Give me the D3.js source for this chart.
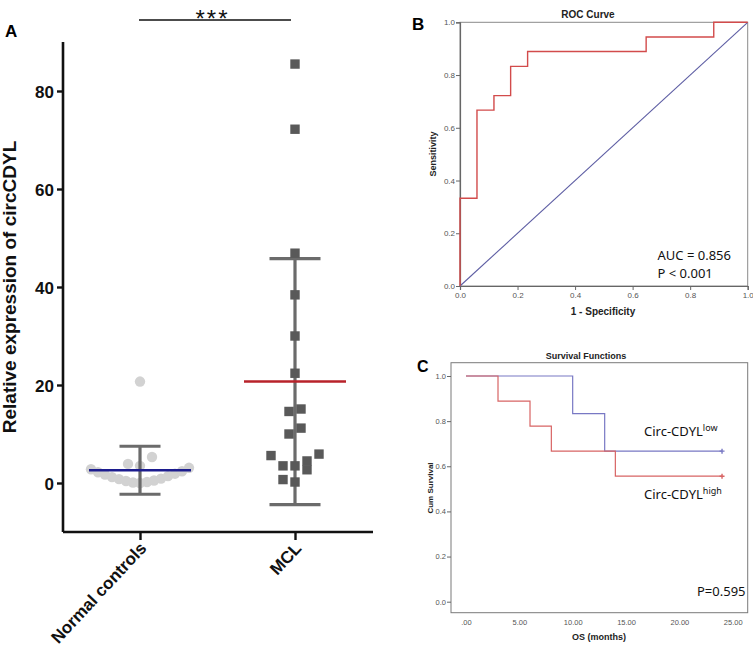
<!DOCTYPE html>
<html>
<head>
<meta charset="utf-8">
<script src="https://cdn.jsdelivr.net/npm/d3@7"></script>
<style>
  html, body { margin: 0; padding: 0; background: #fff; }
  svg { display: block; }
</style>
</head>
<body>
<svg id="chart" width="753" height="647"></svg>
<script>
// ---------------- DATA ----------------
const groups = ["Normal controls", "MCL"];
const normalValues = [20.7, 5.3, 3.9, 3.5, 3.1, 2.8, 2.4, 2.2, 1.9, 1.7, 1.4, 1.2, 0.9, 0.8, 0.5, 0.4, 0.2, 0.1, 0.0];
const mclValues = [85.5, 72.2, 46.9, 38.4, 30.0, 22.4, 15.1, 14.6, 11.2, 10.0, 5.9, 5.6, 4.5, 3.5, 3.5, 2.7, 0.7, 0.2];
const groupMeans = [2.6, 20.7];
const groupSDs = [4.9, 25.1];
const yTicksA = [0, 20, 40, 60, 80];
const significance = "***";

const rocFPR = [0, 0, 0.059, 0.118, 0.176, 0.235, 0.647, 0.882, 1.0];
const rocTPR = [0, 0.333, 0.667, 0.722, 0.833, 0.889, 0.944, 1.0, 1.0];
const rocTicks = [0, 0.2, 0.4, 0.6, 0.8, 1.0];
const rocAnnot = ["AUC = 0.856", "P < 0.001"];

const survHighTime = [0, 3, 6, 8, 14, 24];
const survHighProb = [1.0, 0.889, 0.778, 0.667, 0.556, 0.556];
const survLowTime = [0, 10, 13, 24];
const survLowProb = [1.0, 0.833, 0.667, 0.667];
const survXTicks = [0, 5, 10, 15, 20, 25];
const survXTickLabels = [".00", "5.00", "10.00", "15.00", "20.00", "25.00"];
const survYTicks = [0, 0.2, 0.4, 0.6, 0.8, 1.0];
const survPValue = "P=0.595";

// ---------------- DRAW ----------------
const svg = d3.select("#chart");
svg.append("rect").attr("width", 753).attr("height", 647).attr("fill", "#fff");

// ======== PANEL A ========
const gA = svg.append("g");
const yA = d3.scaleLinear().domain([-10, 90]).range([532, 42]);
const xA = d3.scalePoint().domain(groups).range([140, 295]);
const axisFont = "'Liberation Sans Narrow', 'Liberation Sans', Arial, sans-serif";

// y axis
const yAxisA = d3.axisLeft(yA).tickValues(yTicksA).tickSize(6).tickFormat(d3.format("d"));
const yAx = gA.append("g").attr("transform", "translate(63,0)").call(yAxisA);
yAx.select(".domain").attr("stroke", "#111").attr("stroke-width", 2.6).attr("d", "M0,42V532");
yAx.selectAll(".tick line").attr("stroke", "#111").attr("stroke-width", 2.4);
yAx.selectAll(".tick text").attr("font-family", axisFont).attr("font-weight", "bold")
  .attr("font-size", 17).attr("fill", "#111").attr("x", -9).attr("dy", "0.36em");

// x axis
const xAxisA = d3.axisBottom(xA).tickSize(8).tickFormat("");
const xAx = gA.append("g").attr("transform", "translate(0,532)").call(xAxisA);
xAx.select(".domain").attr("stroke", "#111").attr("stroke-width", 2.6).attr("d", "M63,0H373");
xAx.selectAll(".tick line").attr("stroke", "#111").attr("stroke-width", 2.4);

groups.forEach(g => {
  gA.append("text")
    .attr("transform", `translate(${xA(g) + 3},${545}) rotate(-47)`)
    .attr("text-anchor", "end")
    .attr("dy", "0.35em")
    .attr("font-family", "'Liberation Sans', Arial, sans-serif")
    .attr("font-weight", "bold").attr("font-size", 17).attr("fill", "#111")
    .text(g);
});

// y label
gA.append("text")
  .attr("transform", "translate(15.5,287) rotate(-90)")
  .attr("text-anchor", "middle")
  .attr("font-family", "'Liberation Sans', Arial, sans-serif")
  .attr("font-weight", "bold").attr("font-size", 19).attr("fill", "#111")
  .text("Relative expression of circCDYL");

// panel letter
svg.append("text").attr("x", 5).attr("y", 37).attr("font-family", "'Liberation Sans', Arial, sans-serif")
  .attr("font-weight", "bold").attr("font-size", 17).attr("fill", "#000").text("A");

// significance bar
gA.append("line").attr("x1", xA(groups[0]) - 1).attr("x2", xA(groups[1]) - 4)
  .attr("y1", 20).attr("y2", 20).attr("stroke", "#111").attr("stroke-width", 1.4);
gA.append("text").attr("x", (xA(groups[0]) + xA(groups[1])) / 2 - 5).attr("y", 27)
  .attr("text-anchor", "middle").attr("font-family", "'Liberation Sans', Arial, sans-serif")
  .attr("font-size", 24).attr("letter-spacing", 2).attr("fill", "#111").text(significance);

// scatter-dot layout: points grouped into horizontal rows, spread alternately from the centre
function rowLayout(values, cx, rowH, sp, maxW) {
  const sorted = values.map(v => ({ v, y: yA(v) })).sort((a, b) => a.v - b.v);
  const rows = [];
  sorted.forEach(p => {
    const row = rows[rows.length - 1];
    if (row && Math.abs(row[0].y - p.y) <= rowH) row.push(p);
    else rows.push([p]);
  });
  const out = [];
  rows.forEach(row => {
    const n = row.length;
    const s = n > 1 ? Math.min(sp, maxW / (n - 1)) : 0;
    row.forEach((p, k) => {
      let off;
      if (n % 2 === 1) {
        const lvl = Math.ceil(k / 2);
        off = k === 0 ? 0 : (k % 2 === 1 ? -1 : 1) * lvl * s;
      } else {
        const lvl = Math.floor(k / 2) + 0.5;
        off = (k % 2 === 0 ? -1 : 1) * lvl * s;
      }
      out.push({ x: cx + off, y: p.y, v: p.v });
    });
  });
  return out;
}

const normalPts = rowLayout(normalValues, xA(groups[0]), 16, 12, 98);
const mclPts = rowLayout(mclValues, xA(groups[1]), 16, 12, 98);

// normal points (under the error bar)
gA.append("g").selectAll("circle").data(normalPts).join("circle")
  .attr("cx", d => d.x).attr("cy", d => d.y).attr("r", 5.2).attr("fill", "#d2d2d2");

// error bars
const capHalf = [20.5, 25.5];
groups.forEach((g, i) => {
  const cx = xA(g);
  const top = yA(groupMeans[i] + groupSDs[i]);
  const bot = yA(groupMeans[i] - groupSDs[i]);
  const eb = gA.append("g").attr("stroke", "#6b6b6b").attr("stroke-width", 3.2);
  eb.append("line").attr("x1", cx).attr("x2", cx).attr("y1", top).attr("y2", bot);
  eb.append("line").attr("x1", cx - capHalf[i]).attr("x2", cx + capHalf[i]).attr("y1", top).attr("y2", top);
  eb.append("line").attr("x1", cx - capHalf[i]).attr("x2", cx + capHalf[i]).attr("y1", bot).attr("y2", bot);
});

// MCL squares
gA.append("g").selectAll("rect").data(mclPts).join("rect")
  .attr("x", d => d.x - 4.7).attr("y", d => d.y - 4.7).attr("width", 9.4).attr("height", 9.4)
  .attr("fill", "#595959");

// mean lines
const meanColors = ["#1c1c8e", "#b8222a"];
groups.forEach((g, i) => {
  gA.append("line").attr("x1", xA(g) - 51).attr("x2", xA(g) + 51)
    .attr("y1", yA(groupMeans[i])).attr("y2", yA(groupMeans[i]))
    .attr("stroke", meanColors[i]).attr("stroke-width", 2.6);
});

// ======== PANEL B ========
const gB = svg.append("g");
const smallFont = "'Liberation Sans', Arial, sans-serif";
const xB = d3.scaleLinear().domain([0, 1]).range([460, 747.7]);
const yB = d3.scaleLinear().domain([0, 1]).range([286, 22.3]);

gB.append("rect").attr("x", 460).attr("y", 22.3).attr("width", 287.7).attr("height", 263.7)
  .attr("fill", "none").attr("stroke", "#8a8a8a").attr("stroke-width", 1);

const yBx = gB.append("g").attr("transform", "translate(460,0)")
  .call(d3.axisLeft(yB).tickValues(rocTicks).tickSize(4).tickFormat(d3.format(".1f")));
yBx.select(".domain").attr("stroke", "#666").attr("stroke-width", 1.2);
yBx.selectAll(".tick line").attr("stroke", "#666");
yBx.selectAll(".tick text").attr("font-family", smallFont).attr("font-size", 8).attr("fill", "#555").attr("x", -5);

const xBx = gB.append("g").attr("transform", "translate(0,286)")
  .call(d3.axisBottom(xB).tickValues(rocTicks).tickSize(4).tickFormat(d3.format(".1f")));
xBx.select(".domain").attr("stroke", "#666").attr("stroke-width", 1.2);
xBx.selectAll(".tick line").attr("stroke", "#666");
xBx.selectAll(".tick text").attr("font-family", smallFont).attr("font-size", 8).attr("fill", "#555").attr("y", 6);

// diagonal reference
gB.append("line").attr("x1", xB(0)).attr("y1", yB(0)).attr("x2", xB(1)).attr("y2", yB(1))
  .attr("stroke", "#5d5da3").attr("stroke-width", 1.1);

// ROC step curve
const rocData = rocFPR.map((x, i) => [x, rocTPR[i]]);
gB.append("path").datum(rocData)
  .attr("d", d3.line().x(d => xB(d[0])).y(d => yB(d[1])).curve(d3.curveStepAfter))
  .attr("fill", "none").attr("stroke", "#d24b4b").attr("stroke-width", 1.4);

gB.append("text").attr("x", 588).attr("y", 17.5).attr("text-anchor", "middle")
  .attr("font-family", smallFont).attr("font-weight", "bold").attr("font-size", 10).attr("fill", "#222").text("ROC Curve");
gB.append("text").attr("transform", "translate(436,154) rotate(-90)").attr("text-anchor", "middle")
  .attr("font-family", smallFont).attr("font-weight", "bold").attr("font-size", 9).attr("fill", "#222").text("Sensitivity");
gB.append("text").attr("x", 603).attr("y", 314.5).attr("text-anchor", "middle")
  .attr("font-family", smallFont).attr("font-weight", "bold").attr("font-size", 10).attr("fill", "#222").text("1 - Specificity");
gB.selectAll("text.annot").data(rocAnnot).join("text").attr("class", "annot")
  .attr("x", 657.5).attr("y", (d, i) => 260 + i * 17.7)
  .attr("font-family", "'Noto Sans', sans-serif").attr("font-size", 13).attr("fill", "#111").text(d => d);
svg.append("text").attr("x", 412).attr("y", 30).attr("font-family", smallFont)
  .attr("font-weight", "bold").attr("font-size", 17).attr("fill", "#000").text("B");

// ======== PANEL C ========
const gC = svg.append("g");
const xC = d3.scaleLinear().domain([0, 25]).range([466, 732.7]);
const yC = d3.scaleLinear().domain([0, 1]).range([601.7, 376]);

gC.append("rect").attr("x", 451).attr("y", 362.7).attr("width", 296.7).attr("height", 250)
  .attr("fill", "none").attr("stroke", "#7a7a7a").attr("stroke-width", 1);

const yCx = gC.append("g").attr("transform", "translate(451,0)")
  .call(d3.axisLeft(yC).tickValues(survYTicks).tickSize(4).tickFormat(d3.format(".1f")));
yCx.select(".domain").remove();
yCx.selectAll(".tick line").attr("stroke", "#666");
yCx.selectAll(".tick text").attr("font-family", axisFont).attr("font-size", 7.5).attr("fill", "#555").attr("x", -5);

const xCx = gC.append("g").attr("transform", "translate(0,612.7)")
  .call(d3.axisBottom(xC).tickValues(survXTicks).tickSize(0).tickFormat((d, i) => survXTickLabels[i]));
xCx.select(".domain").remove();
xCx.selectAll(".tick text").attr("font-family", axisFont).attr("font-size", 7.5).attr("fill", "#555").attr("y", 7);

const lineC = d3.line().x(d => xC(d[0])).y(d => yC(d[1])).curve(d3.curveStepAfter);
const lowData = survLowTime.map((t, i) => [t, survLowProb[i]]);
const highData = survHighTime.map((t, i) => [t, survHighProb[i]]);
const lowCol = "#7878c4", highCol = "#d86464";
gC.append("path").datum(lowData).attr("d", lineC).attr("fill", "none").attr("stroke", lowCol).attr("stroke-width", 1.2);
gC.append("path").datum(highData).attr("d", lineC).attr("fill", "none").attr("stroke", highCol).attr("stroke-width", 1.2);
// censor marks
[[lowData, lowCol], [highData, highCol]].forEach(([dat, col]) => {
  const last = dat[dat.length - 1];
  const cx = xC(last[0]), cy = yC(last[1]);
  gC.append("path").attr("d", `M${cx - 2.5},${cy}H${cx + 2.5}M${cx},${cy - 2.5}V${cy + 2.5}`)
    .attr("stroke", col).attr("stroke-width", 1.4);
});

gC.append("text").attr("x", 586).attr("y", 359).attr("text-anchor", "middle")
  .attr("font-family", axisFont).attr("font-weight", "bold").attr("font-size", 9).attr("fill", "#222").text("Survival Functions");
gC.append("text").attr("transform", "translate(433,488) rotate(-90)").attr("text-anchor", "middle")
  .attr("font-family", smallFont).attr("font-weight", "bold").attr("font-size", 8).attr("fill", "#222").text("Cum Survival");
gC.append("text").attr("x", 599).attr("y", 640).attr("text-anchor", "middle")
  .attr("font-family", axisFont).attr("font-weight", "bold").attr("font-size", 9).attr("fill", "#222").text("OS (months)");

const legendFont = "'Noto Sans', sans-serif";
const lowLbl = gC.append("text").attr("x", 644).attr("y", 436).attr("font-family", legendFont).attr("font-size", 13).attr("fill", "#111");
lowLbl.append("tspan").text("Circ-CDYL");
lowLbl.append("tspan").attr("dy", -5).attr("font-size", 9).text("low");
const highLbl = gC.append("text").attr("x", 644).attr("y", 499).attr("font-family", legendFont).attr("font-size", 13).attr("fill", "#111");
highLbl.append("tspan").text("Circ-CDYL");
highLbl.append("tspan").attr("dy", -5).attr("font-size", 9).text("high");
gC.append("text").attr("x", 697).attr("y", 596).attr("font-family", legendFont).attr("font-size", 13).attr("fill", "#111").text(survPValue);

svg.append("text").attr("x", 417).attr("y", 372).attr("font-family", smallFont)
  .attr("font-weight", "bold").attr("font-size", 16).attr("fill", "#000").text("C");
</script>
</body>
</html>
